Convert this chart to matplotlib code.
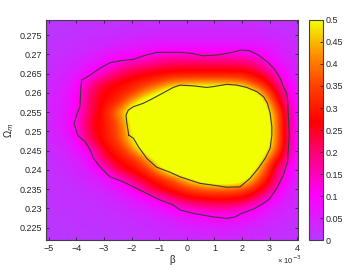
import numpy as np
import matplotlib
matplotlib.use("Agg")
import matplotlib.pyplot as plt
from matplotlib.colors import LinearSegmentedColormap

plt.rcParams['font.family'] = ['Liberation Sans', 'DejaVu Sans']

# grid of the density map (beta in units of 1e-3)
beta = [-5, -4.5, -4, -3.5, -3, -2.5, -2, -1.5, -1, -0.5, 0, 0.5, 1, 1.5, 2, 2.5, 3, 3.5, 4]
omega = [0.2225, 0.225, 0.2275, 0.23, 0.2325, 0.235, 0.2375, 0.24, 0.2425, 0.245, 0.2475, 0.25,
         0.2525, 0.255, 0.2575, 0.26, 0.2625, 0.265, 0.2675, 0.27, 0.2725, 0.275, 0.2775]

# rows from bottom (omega=0.2225) to top (omega=0.2775)
density = [
    [0.005, 0.005, 0.005, 0.01, 0.01, 0.01, 0.015, 0.02, 0.02, 0.025, 0.025, 0.03, 0.03, 0.03, 0.03, 0.025, 0.02, 0.015, 0.01],
    [0.005, 0.005, 0.01, 0.01, 0.01, 0.015, 0.02, 0.025, 0.03, 0.035, 0.04, 0.045, 0.05, 0.05, 0.045, 0.035, 0.025, 0.02, 0.015],
    [0.01, 0.01, 0.01, 0.015, 0.015, 0.02, 0.025, 0.03, 0.04, 0.05, 0.065, 0.08, 0.09, 0.09, 0.08, 0.06, 0.04, 0.03, 0.02],
    [0.01, 0.01, 0.015, 0.015, 0.02, 0.03, 0.04, 0.05, 0.07, 0.1, 0.13, 0.15, 0.16, 0.16, 0.14, 0.1, 0.06, 0.04, 0.025],
    [0.01, 0.015, 0.015, 0.02, 0.03, 0.04, 0.06, 0.08, 0.12, 0.2, 0.25, 0.27, 0.28, 0.28, 0.27, 0.2, 0.11, 0.05, 0.03],
    [0.015, 0.015, 0.02, 0.03, 0.04, 0.06, 0.1, 0.19, 0.27, 0.3, 0.34, 0.37, 0.38, 0.38, 0.36, 0.3, 0.2, 0.07, 0.035],
    [0.015, 0.02, 0.03, 0.04, 0.06, 0.11, 0.2, 0.26, 0.3, 0.36, 0.47, 0.55, 0.6, 0.6, 0.56, 0.4, 0.26, 0.11, 0.04],
    [0.02, 0.025, 0.035, 0.055, 0.11, 0.24, 0.28, 0.32, 0.45, 0.58, 0.6, 0.6, 0.6, 0.6, 0.6, 0.48, 0.3, 0.13, 0.045],
    [0.02, 0.03, 0.045, 0.08, 0.22, 0.28, 0.3, 0.4, 0.55, 0.6, 0.6, 0.6, 0.6, 0.6, 0.6, 0.58, 0.35, 0.2, 0.05],
    [0.025, 0.035, 0.06, 0.11, 0.26, 0.3, 0.4, 0.55, 0.6, 0.6, 0.6, 0.6, 0.6, 0.6, 0.6, 0.6, 0.48, 0.26, 0.055],
    [0.03, 0.045, 0.08, 0.22, 0.29, 0.34, 0.48, 0.58, 0.6, 0.6, 0.6, 0.6, 0.6, 0.6, 0.6, 0.6, 0.52, 0.27, 0.055],
    [0.035, 0.055, 0.11, 0.24, 0.29, 0.36, 0.5, 0.6, 0.6, 0.6, 0.6, 0.6, 0.6, 0.6, 0.6, 0.6, 0.52, 0.27, 0.055],
    [0.035, 0.055, 0.11, 0.25, 0.29, 0.36, 0.52, 0.6, 0.6, 0.6, 0.6, 0.6, 0.6, 0.6, 0.6, 0.6, 0.52, 0.27, 0.055],
    [0.035, 0.055, 0.1, 0.22, 0.29, 0.42, 0.55, 0.6, 0.6, 0.6, 0.6, 0.6, 0.6, 0.6, 0.6, 0.6, 0.5, 0.26, 0.055],
    [0.035, 0.055, 0.1, 0.22, 0.28, 0.31, 0.45, 0.55, 0.6, 0.6, 0.6, 0.6, 0.6, 0.6, 0.6, 0.6, 0.42, 0.2, 0.055],
    [0.035, 0.05, 0.09, 0.2, 0.27, 0.29, 0.33, 0.42, 0.5, 0.58, 0.6, 0.6, 0.6, 0.6, 0.6, 0.5, 0.33, 0.18, 0.05],
    [0.03, 0.045, 0.08, 0.17, 0.24, 0.27, 0.29, 0.32, 0.36, 0.42, 0.43, 0.44, 0.44, 0.44, 0.42, 0.33, 0.27, 0.11, 0.045],
    [0.025, 0.035, 0.055, 0.09, 0.14, 0.2, 0.24, 0.26, 0.27, 0.28, 0.28, 0.28, 0.28, 0.28, 0.28, 0.26, 0.19, 0.08, 0.04],
    [0.02, 0.03, 0.045, 0.065, 0.09, 0.13, 0.16, 0.18, 0.2, 0.22, 0.22, 0.22, 0.22, 0.22, 0.21, 0.19, 0.1, 0.06, 0.035],
    [0.015, 0.02, 0.03, 0.04, 0.055, 0.07, 0.08, 0.095, 0.12, 0.12, 0.12, 0.12, 0.12, 0.12, 0.12, 0.11, 0.07, 0.045, 0.03],
    [0.01, 0.015, 0.02, 0.025, 0.035, 0.04, 0.05, 0.055, 0.06, 0.06, 0.06, 0.06, 0.06, 0.06, 0.06, 0.06, 0.05, 0.035, 0.02],
    [0.01, 0.01, 0.015, 0.02, 0.02, 0.025, 0.03, 0.03, 0.035, 0.035, 0.035, 0.035, 0.035, 0.035, 0.035, 0.035, 0.03, 0.025, 0.015],
    [0.005, 0.005, 0.01, 0.01, 0.015, 0.015, 0.02, 0.02, 0.02, 0.02, 0.02, 0.02, 0.02, 0.02, 0.02, 0.02, 0.015, 0.01, 0.01],
]

# confidence contours
outer_beta = [-3.95, -4.08, -3.99, -3.87, -3.83, -3.80, -3.50, -3.14, -2.78, -2.42, -1.93, -1.57, -1.09,
              -0.24, 0.12, 0.60, 1.09, 1.57, 1.99, 2.29, 2.59, 2.96, 3.20, 3.38, 3.50, 3.62, 3.66, 3.68,
              3.71, 3.68, 3.65, 3.50, 3.26, 2.99, 2.78, 2.41, 1.99, 1.75, 1.45, 0.96, 0.24, -0.24, -0.49,
              -0.97, -1.45, -1.93, -2.30, -2.78, -3.14, -3.38, -3.50, -3.68, -3.95]
outer_omega = [0.2490, 0.2521, 0.2542, 0.2564, 0.2618, 0.2633, 0.2646, 0.2664, 0.2678, 0.2683, 0.2687,
               0.2696, 0.2705, 0.2705, 0.2703, 0.2696, 0.2698, 0.2704, 0.2711, 0.2709, 0.2698, 0.2678,
               0.2659, 0.2638, 0.2616, 0.2599, 0.2573, 0.2538, 0.2490, 0.2456, 0.2421, 0.2387, 0.2352,
               0.2324, 0.2313, 0.2298, 0.2287, 0.2278, 0.2274, 0.2278, 0.2287, 0.2296, 0.2309, 0.2322,
               0.2339, 0.2356, 0.2369, 0.2382, 0.2408, 0.2430, 0.2452, 0.2473, 0.2490]

inner_beta = [-2.10, -2.17, -2.20, -2.12, -1.93, -1.57, -1.21, -0.85, -0.49, -0.24, 0.24, 0.72, 0.96,
              1.45, 1.81, 2.17, 2.54, 2.78, 2.92, 3.02, 3.08, 3.08, 3.02, 2.84, 2.59, 2.29, 1.93, 1.45,
              1.09, 0.48, -0.24, -0.61, -1.09, -1.45, -1.75, -1.93, -2.10]
inner_omega = [0.2490, 0.2521, 0.2542, 0.2555, 0.2564, 0.2573, 0.2586, 0.2600, 0.2614, 0.2620, 0.2618,
               0.2614, 0.2616, 0.2622, 0.2620, 0.2614, 0.2603, 0.2590, 0.2573, 0.2547, 0.2512, 0.2490,
               0.2456, 0.2430, 0.2404, 0.2378, 0.2356, 0.2355, 0.2359, 0.2365, 0.2382, 0.2394, 0.2407,
               0.2430, 0.2460, 0.2482, 0.2490]

x_ticks = [-5, -4, -3, -2, -1, 0, 1, 2, 3, 4]
y_ticks = [0.225, 0.23, 0.235, 0.24, 0.245, 0.25, 0.255, 0.26, 0.265, 0.27, 0.275]
cbar_ticks = [0, 0.05, 0.1, 0.15, 0.2, 0.25, 0.3, 0.35, 0.4, 0.45, 0.5]

cmap = LinearSegmentedColormap.from_list("purple_yellow", [
    (0.0, (0.72, 0.22, 1.0)),
    (0.2, (1.0, 0.0, 1.0)),
    (0.4, (1.0, 0.0, 0.45)),
    (0.54, (1.0, 0.0, 0.0)),
    (0.7, (1.0, 0.25, 0.0)),
    (0.84, (1.0, 0.55, 0.0)),
    (1.0, (0.95, 1.0, 0.0)),
])

fig = plt.figure(figsize=(3.59, 2.70), dpi=100)
ax = fig.add_axes([0.128, 0.111, 0.703, 0.815])
cax = fig.add_axes([0.861, 0.111, 0.039, 0.815])

db = (beta[1] - beta[0]) / 2
do = (omega[1] - omega[0]) / 2
im = ax.imshow(np.array(density), origin='lower', cmap=cmap, vmin=0, vmax=0.5,
               extent=[beta[0] - db, beta[-1] + db, omega[0] - do, omega[-1] + do],
               aspect='auto', interpolation='bicubic')
ax.plot(outer_beta, outer_omega, color='#3c3c3c', lw=0.8)
ax.plot(inner_beta, inner_omega, color='#3c3c3c', lw=0.8)

ax.set_xlim(-5.1, 4.04)
ax.set_ylim(0.2218, 0.2789)
ax.set_xticks(x_ticks)
ax.set_xticklabels([str(t).replace('-', '\u2212') for t in x_ticks])
ax.set_yticks(y_ticks)
ax.set_yticklabels([('%g' % t) for t in y_ticks])
ax.tick_params(direction='in', top=True, right=True, length=2.5, width=0.6,
               labelsize=6.5, colors='#262626', pad=3)
for s in ax.spines.values():
    s.set_color('#404040')
    s.set_linewidth(0.8)

ax.set_xlabel('\u03b2', fontsize=7, color='#262626', labelpad=1)
ax.set_ylabel('\u03a9$_m$', fontsize=7, color='#262626', labelpad=2)
fig.text(0.772, 0.022, '\u00d7 10$^{\u22123}$', fontsize=5.5, color='#262626')

cb = fig.colorbar(im, cax=cax, ticks=cbar_ticks)
cb.ax.set_yticklabels([('%g' % t) for t in cbar_ticks])
cb.ax.tick_params(direction='in', length=2, width=0.6, labelsize=6.5, colors='#262626', pad=2)
cb.outline.set_edgecolor('#404040')
cb.outline.set_linewidth(0.8)

fig.savefig("out.png", dpi=100)
